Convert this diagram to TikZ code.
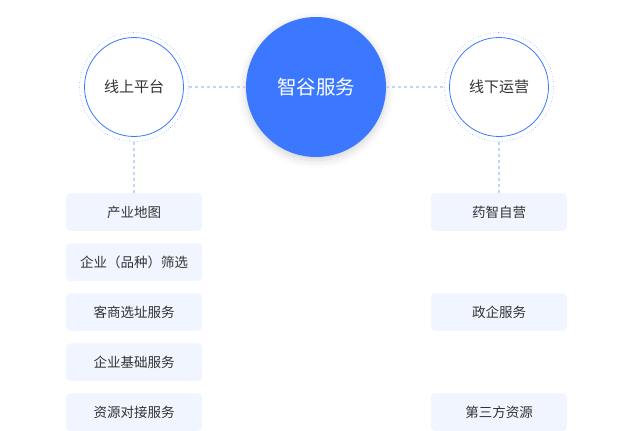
\documentclass[tikz,border=0pt]{standalone}
\usepackage{fontspec}
\usepackage{xcolor}
\usetikzlibrary{shadows.blur}
\setmainfont{Noto Sans CJK SC}
\definecolor{mainblue}{HTML}{3B78FF}
\definecolor{lineblue}{HTML}{C3D4FC}
\definecolor{boxfill}{HTML}{F0F5FF}
\definecolor{textgray}{HTML}{333333}
\tikzset{
    hub-circle/.style = {circle, fill=mainblue, text=white, minimum size=140pt, inner sep=0pt, font=\fontsize{19.5}{22}\selectfont,
        blur shadow={shadow xshift=0pt, shadow yshift=-3pt, shadow blur radius=8pt, shadow opacity=18}},
    side-circle/.style = {circle, draw=mainblue, fill=white, line width=0.8pt, minimum size=99pt, inner sep=0pt, text=textgray, font=\fontsize{15}{18}\selectfont},
    ring/.style = {draw=mainblue!60, dotted, line width=0.6pt},
    item-box/.style = {rectangle, rounded corners=4pt, fill=boxfill, minimum width=136pt, minimum height=37.5pt, text=textgray, font=\fontsize{13.5}{16}\selectfont},
    link/.style = {draw=lineblue, dashed, dash pattern=on 3pt off 3pt, line width=1.2pt},
}

\begin{document}
\begin{tikzpicture}[x=1pt, y=-1pt]
\useasboundingbox (0,0) rectangle (630,431);
% circles
\node[hub-circle] (hub) at (316,87) {智谷服务};
\node[side-circle] (online) at (134,87) {线上平台};
\node[side-circle] (offline) at (499,87) {线下运营};
\draw[ring] (online.center) circle (54.5pt);
\draw[ring] (offline.center) circle (54.5pt);
% boxes
\node[item-box] (map) at (134,212) {产业地图};
\node[item-box] (variety) at (134,262) {企业（品种）筛选};
\node[item-box] (siting) at (134,312) {客商选址服务};
\node[item-box] (basic) at (134,362) {企业基础服务};
\node[item-box] (resource) at (134,412) {资源对接服务};
\node[item-box] (pharma) at (499,212) {药智自营};
\node[item-box] (gov) at (499,312) {政企服务};
\node[item-box] (third) at (499,412) {第三方资源};
% links
\draw[link] ([xshift=5pt]online.east) -- (hub.west);
\draw[link] (hub.east) -- ([xshift=-5pt]offline.west);
\draw[link] ([yshift=-5pt]online.south) -- (map.north);
\draw[link] ([yshift=-5pt]offline.south) -- (pharma.north);
\end{tikzpicture}
\end{document}
